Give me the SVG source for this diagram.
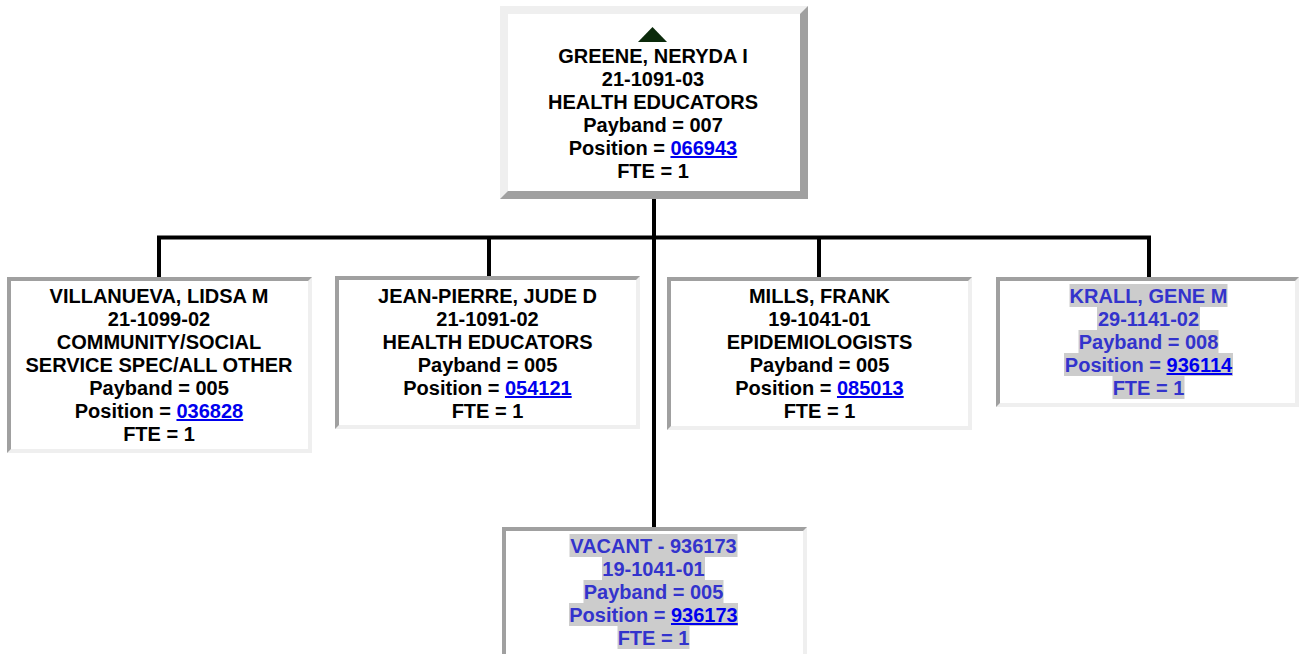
<svg xmlns="http://www.w3.org/2000/svg" width="1299" height="654" viewBox="0 0 1299 654">
<style>
.t{font-family:"Liberation Sans",Arial,Helvetica,sans-serif;font-weight:bold;font-size:20px;text-anchor:middle;fill:#000}
.v{fill:#3333cc}
.lk{fill:#0000ee;text-decoration:underline}
.hl{fill:#cccccc}
.dk{fill:#a0a0a0}
.lt{fill:#efefef}
.in{fill:#ffffff}
.con{stroke:#000;stroke-width:4;fill:none}
</style>
<rect width="1299" height="654" fill="#fff"/>
<g id="connectors">
<line class="con" x1="654" y1="199" x2="654" y2="527"/>
<line class="con" x1="157" y1="237.5" x2="1151" y2="237.5"/>
<line class="con" x1="159" y1="236" x2="159" y2="277"/>
<line class="con" x1="489" y1="236" x2="489" y2="277"/>
<line class="con" x1="819" y1="236" x2="819" y2="277"/>
<line class="con" x1="1149" y1="236" x2="1149" y2="277"/>
</g>
<g id="node-greene">
<rect class="lt" x="500" y="6" width="308" height="193"/>
<polygon class="dk" points="808,6 808,199 500,199 508,191 800,191 800,14"/>
<rect class="in" x="508" y="14" width="292" height="177"/>
<polygon points="638,42 652.5,27 667,42" fill="#0b2a0b"/>
<text class="t" x="653" y="63">GREENE, NERYDA I</text>
<text class="t" x="653" y="86">21-1091-03</text>
<text class="t" x="653" y="109">HEALTH EDUCATORS</text>
<text class="t" x="653" y="132">Payband = 007</text>
<text class="t" x="653" y="155">Position = <tspan class="lk">066943</tspan></text>
<text class="t" x="653" y="178">FTE = 1</text>
</g>
<g id="node-villanueva">
<rect class="dk" x="7" y="277" width="305" height="176"/>
<polygon class="lt" points="312,277 312,453 7,453 11,449 308,449 308,281"/>
<rect class="in" x="11" y="281" width="297" height="168"/>
<text class="t" x="159" y="303">VILLANUEVA, LIDSA M</text>
<text class="t" x="159" y="326">21-1099-02</text>
<text class="t" x="159" y="349">COMMUNITY/SOCIAL</text>
<text class="t" x="159" y="372">SERVICE SPEC/ALL OTHER</text>
<text class="t" x="159" y="395">Payband = 005</text>
<text class="t" x="159" y="418">Position = <tspan class="lk">036828</tspan></text>
<text class="t" x="159" y="441">FTE = 1</text>
</g>
<g id="node-jeanpierre">
<rect class="dk" x="335" y="276" width="305" height="153"/>
<polygon class="lt" points="640,276 640,429 335,429 339,425 636,425 636,280"/>
<rect class="in" x="339" y="280" width="297" height="145"/>
<text class="t" x="487.5" y="303">JEAN-PIERRE, JUDE D</text>
<text class="t" x="487.5" y="326">21-1091-02</text>
<text class="t" x="487.5" y="349">HEALTH EDUCATORS</text>
<text class="t" x="487.5" y="372">Payband = 005</text>
<text class="t" x="487.5" y="395">Position = <tspan class="lk">054121</tspan></text>
<text class="t" x="487.5" y="418">FTE = 1</text>
</g>
<g id="node-mills">
<rect class="dk" x="667" y="277" width="305" height="153"/>
<polygon class="lt" points="972,277 972,430 667,430 671,426 968,426 968,281"/>
<rect class="in" x="671" y="281" width="297" height="145"/>
<text class="t" x="819.5" y="303">MILLS, FRANK</text>
<text class="t" x="819.5" y="326">19-1041-01</text>
<text class="t" x="819.5" y="349">EPIDEMIOLOGISTS</text>
<text class="t" x="819.5" y="372">Payband = 005</text>
<text class="t" x="819.5" y="395">Position = <tspan class="lk">085013</tspan></text>
<text class="t" x="819.5" y="418">FTE = 1</text>
</g>
<g id="node-krall">
<rect class="dk" x="996" y="277" width="303" height="130"/>
<polygon class="lt" points="1299,277 1299,407 996,407 1000,403 1295,403 1295,281"/>
<rect class="in" x="1000" y="281" width="295" height="122"/>
<rect class="hl" x="1069.5" y="284" width="158" height="23"/>
<rect class="hl" x="1097" y="307" width="103" height="23"/>
<rect class="hl" x="1078.5" y="330" width="140" height="23"/>
<rect class="hl" x="1064" y="353" width="169" height="23"/>
<rect class="hl" x="1112.5" y="376" width="72" height="23"/>
<text class="t v" x="1148.5" y="303">KRALL, GENE M</text>
<text class="t v" x="1148.5" y="326">29-1141-02</text>
<text class="t v" x="1148.5" y="349">Payband = 008</text>
<text class="t v" x="1148.5" y="372">Position = <tspan class="lk">936114</tspan></text>
<text class="t v" x="1148.5" y="395">FTE = 1</text>
</g>
<g id="node-vacant">
<rect class="dk" x="502" y="527" width="305" height="140"/>
<polygon class="lt" points="807,527 807,667 803,667 803,531"/>
<rect class="in" x="506" y="531" width="297" height="136"/>
<rect class="hl" x="569.5" y="534" width="168" height="23"/>
<rect class="hl" x="602" y="557" width="103" height="23"/>
<rect class="hl" x="583.5" y="580" width="140" height="23"/>
<rect class="hl" x="569" y="603" width="169" height="23"/>
<rect class="hl" x="617.5" y="626" width="72" height="23"/>
<text class="t v" x="653.5" y="553">VACANT - 936173</text>
<text class="t v" x="653.5" y="576">19-1041-01</text>
<text class="t v" x="653.5" y="599">Payband = 005</text>
<text class="t v" x="653.5" y="622">Position = <tspan class="lk">936173</tspan></text>
<text class="t v" x="653.5" y="645">FTE = 1</text>
</g>
</svg>
